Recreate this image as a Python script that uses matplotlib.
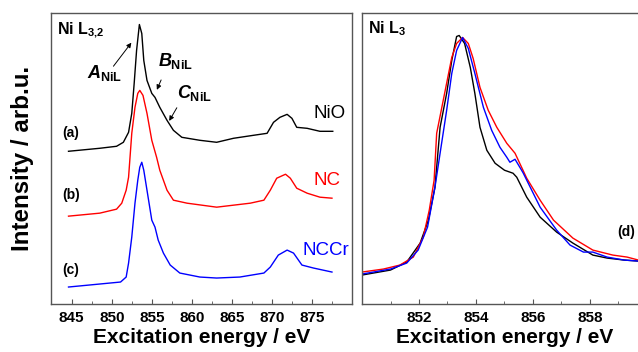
import matplotlib
matplotlib.use("Agg")
import matplotlib.pyplot as plt

plt.rcParams['font.family'] = ['Liberation Sans', 'DejaVu Sans']
plt.rcParams['mathtext.fontset'] = 'custom'
plt.rcParams['mathtext.rm'] = 'Liberation Sans:bold'
plt.rcParams['mathtext.bf'] = 'Liberation Sans:bold'
plt.rcParams['mathtext.it'] = 'Liberation Sans:italic:bold'
plt.rcParams['mathtext.default'] = 'rm'

# ---- panel (a)-(c): Ni L3,2 edge, offset spectra ----
nio_e = [844.6, 848.5, 850.6, 851.45, 852.1, 852.5, 852.8, 853.1, 853.45, 853.75,
         854.0, 854.4, 855.0, 855.4, 856.0, 856.9, 857.7, 858.75, 861.0, 863.1,
         865.2, 867.7, 869.4, 870.2, 871.0, 871.9, 872.5, 873.1, 874.4, 876.0, 877.6]
nio_i = [153, 156, 158, 162, 172, 191, 221, 254, 280, 271,
         244, 224, 211, 207, 197, 184, 174, 167, 164, 162,
         166, 169, 171, 182, 187, 190, 186, 177, 176, 173, 173]

nc_e = [844.6, 848.5, 850.6, 851.25, 851.8, 852.1, 852.5, 852.9, 853.25, 853.5,
        853.9, 854.4, 855.0, 855.6, 856.0, 856.9, 857.7, 859.4, 863.1, 867.3,
        869.0, 869.8, 870.6, 871.7, 872.3, 873.1, 874.4, 876.0, 877.5]
nc_i = [88, 91, 95, 101, 114, 127, 171, 197, 211, 214,
        209, 191, 164, 147, 134, 114, 104, 101, 97, 101,
        104, 114, 126, 130, 126, 116, 111, 107, 106]

nccr_e = [844.6, 848.5, 851.1, 851.8, 852.1, 852.5, 852.9, 853.25, 853.5, 853.75,
          854.0, 854.4, 855.0, 855.4, 855.8, 856.45, 857.3, 858.5, 861.0, 863.1,
          866.0, 869.0, 869.8, 870.8, 871.9, 872.7, 873.75, 875.2, 877.5]
nccr_i = [17, 20, 22, 27, 41, 67, 101, 124, 137, 142,
          134, 114, 84, 77, 64, 51, 39, 31, 27, 26,
          27, 31, 37, 49, 54, 51, 39, 36, 32]

# ---- panel (d): Ni L3 edge, normalised overlay ----
d_nio_e = [850.0, 851.0, 851.57, 852.04, 852.33, 852.56, 852.74, 852.97, 853.15, 853.32,
           853.41, 853.6, 853.8, 853.96, 854.14, 854.38, 854.67, 855.0, 855.3, 855.43,
           855.78, 856.25, 856.83, 857.4, 858.1, 858.6, 859.2, 859.7]
d_nio_i = [29, 34, 42, 61, 84, 117, 177, 211, 244, 268,
           269, 261, 237, 211, 177, 154, 141, 134, 131, 127,
           107, 87, 72, 61, 49, 46, 44, 43]

d_nc_e = [850.0, 850.75, 851.33, 851.8, 852.15, 852.36, 852.53, 852.62, 852.85, 853.15,
          853.32, 853.53, 853.73, 853.9, 854.14, 854.43, 854.73, 855.08, 855.37, 855.78,
          856.25, 856.72, 857.4, 858.1, 858.8, 859.3, 859.7]
d_nc_i = [32, 35, 39, 47, 67, 94, 124, 171, 204, 247,
          261, 267, 261, 246, 217, 194, 177, 161, 151, 126,
          104, 84, 66, 54, 49, 47, 44]

d_nccr_e = [850.0, 851.0, 851.57, 851.97, 852.3, 852.56, 852.74, 852.97, 853.15, 853.32,
            853.53, 853.73, 853.96, 854.26, 854.55, 854.84, 855.08, 855.19, 855.37, 855.6,
            855.66, 856.25, 856.83, 857.3, 857.77, 858.1, 858.6, 859.2, 859.7]
d_nccr_i = [30, 35, 41, 54, 77, 117, 151, 194, 231, 254,
            267, 256, 231, 197, 174, 157, 147, 142, 145, 134,
            131, 97, 74, 59, 52, 52, 47, 44, 43]

left_major = [845, 850, 855, 860, 865, 870, 875]
left_minor = [847.5, 852.5, 857.5, 862.5, 867.5, 872.5, 877.5]
right_major = [852, 854, 856, 858]
right_minor = [851, 853, 855, 857, 859]

spine_col = '#555555'

fig = plt.figure(figsize=(6.38, 3.52), dpi=100)
ax1 = fig.add_axes([0.0804, 0.1364, 0.4713, 0.828])
ax2 = fig.add_axes([0.5674, 0.1364, 0.4467, 0.828])

ax1.plot(nio_e, nio_i, color='black', lw=1.0)
ax1.plot(nc_e, nc_i, color='red', lw=1.0)
ax1.plot(nccr_e, nccr_i, color='blue', lw=1.0)

ax2.plot(d_nio_e, d_nio_i, color='black', lw=1.0)
ax2.plot(d_nc_e, d_nc_i, color='red', lw=1.0)
ax2.plot(d_nccr_e, d_nccr_i, color='blue', lw=1.0)

ax1.set_xlim(842.45, 880)
ax2.set_xlim(850, 860)
ax1.set_xticks(left_major)
ax1.set_xticks(left_minor, minor=True)
ax2.set_xticks(right_major)
ax2.set_xticks(right_minor, minor=True)

for ax in (ax1, ax2):
    ax.set_ylim(0, 292)
    ax.set_yticks([])
    for s in ax.spines.values():
        s.set_color(spine_col)
        s.set_linewidth(1.0)
    ax.tick_params(axis='x', which='both', direction='in', color=spine_col,
                   labelsize=11, pad=5)
    ax.tick_params(axis='x', which='major', length=3.5)
    ax.tick_params(axis='x', which='minor', length=2)
    for lab in ax.get_xticklabels():
        lab.set_fontweight('bold')
    ax.set_xlabel('Excitation energy / eV', fontsize=15, fontweight='bold', labelpad=2)

ax1.set_ylabel('Intensity / arb.u.', fontsize=17.4, fontweight='bold')
ax1.yaxis.set_label_coords(-0.058, 0.5)

# panel titles
ax1.text(843.2, 271, r'Ni L$_{3{,}2}$', fontsize=11.5, fontweight='bold',
         ha='left', va='baseline')
ax2.text(850.2, 271, r'Ni L$_{3}$', fontsize=11.5, fontweight='bold',
         ha='left', va='baseline')

# sample labels
ax1.text(843.8, 171, '(a)', fontsize=10, fontweight='bold', ha='left', va='center')
ax1.text(843.8, 109, '(b)', fontsize=10, fontweight='bold', ha='left', va='center')
ax1.text(843.8, 34, '(c)', fontsize=10, fontweight='bold', ha='left', va='center')
ax1.text(875.2, 191, 'NiO', fontsize=13.5, color='black', ha='left', va='center')
ax1.text(875.2, 124, 'NC', fontsize=13.5, color='red', ha='left', va='center')
ax1.text(873.8, 54, 'NCCr', fontsize=13.5, color='blue', ha='left', va='center')
ax2.text(858.95, 72, '(d)', fontsize=10, fontweight='bold', ha='left', va='center')

# peak feature markers
ax1.text(846.9, 226, r'$\mathit{A}_{NiL}$', fontsize=13, ha='left', va='baseline')
ax1.text(855.8, 238, r'$\mathit{B}_{NiL}$', fontsize=13, ha='left', va='baseline')
ax1.text(858.2, 206, r'$\mathit{C}_{NiL}$', fontsize=13, ha='left', va='baseline')

arrow = dict(arrowstyle='-|>', lw=0.7, color='black', mutation_scale=7)
ax1.annotate('', xy=(852.66, 264), xytext=(850.0, 236), arrowprops=arrow)
ax1.annotate('', xy=(855.5, 212), xytext=(856.3, 227), arrowprops=arrow)
ax1.annotate('', xy=(857.0, 181), xytext=(858.3, 199), arrowprops=arrow)

fig.savefig('out.png', dpi=100)
